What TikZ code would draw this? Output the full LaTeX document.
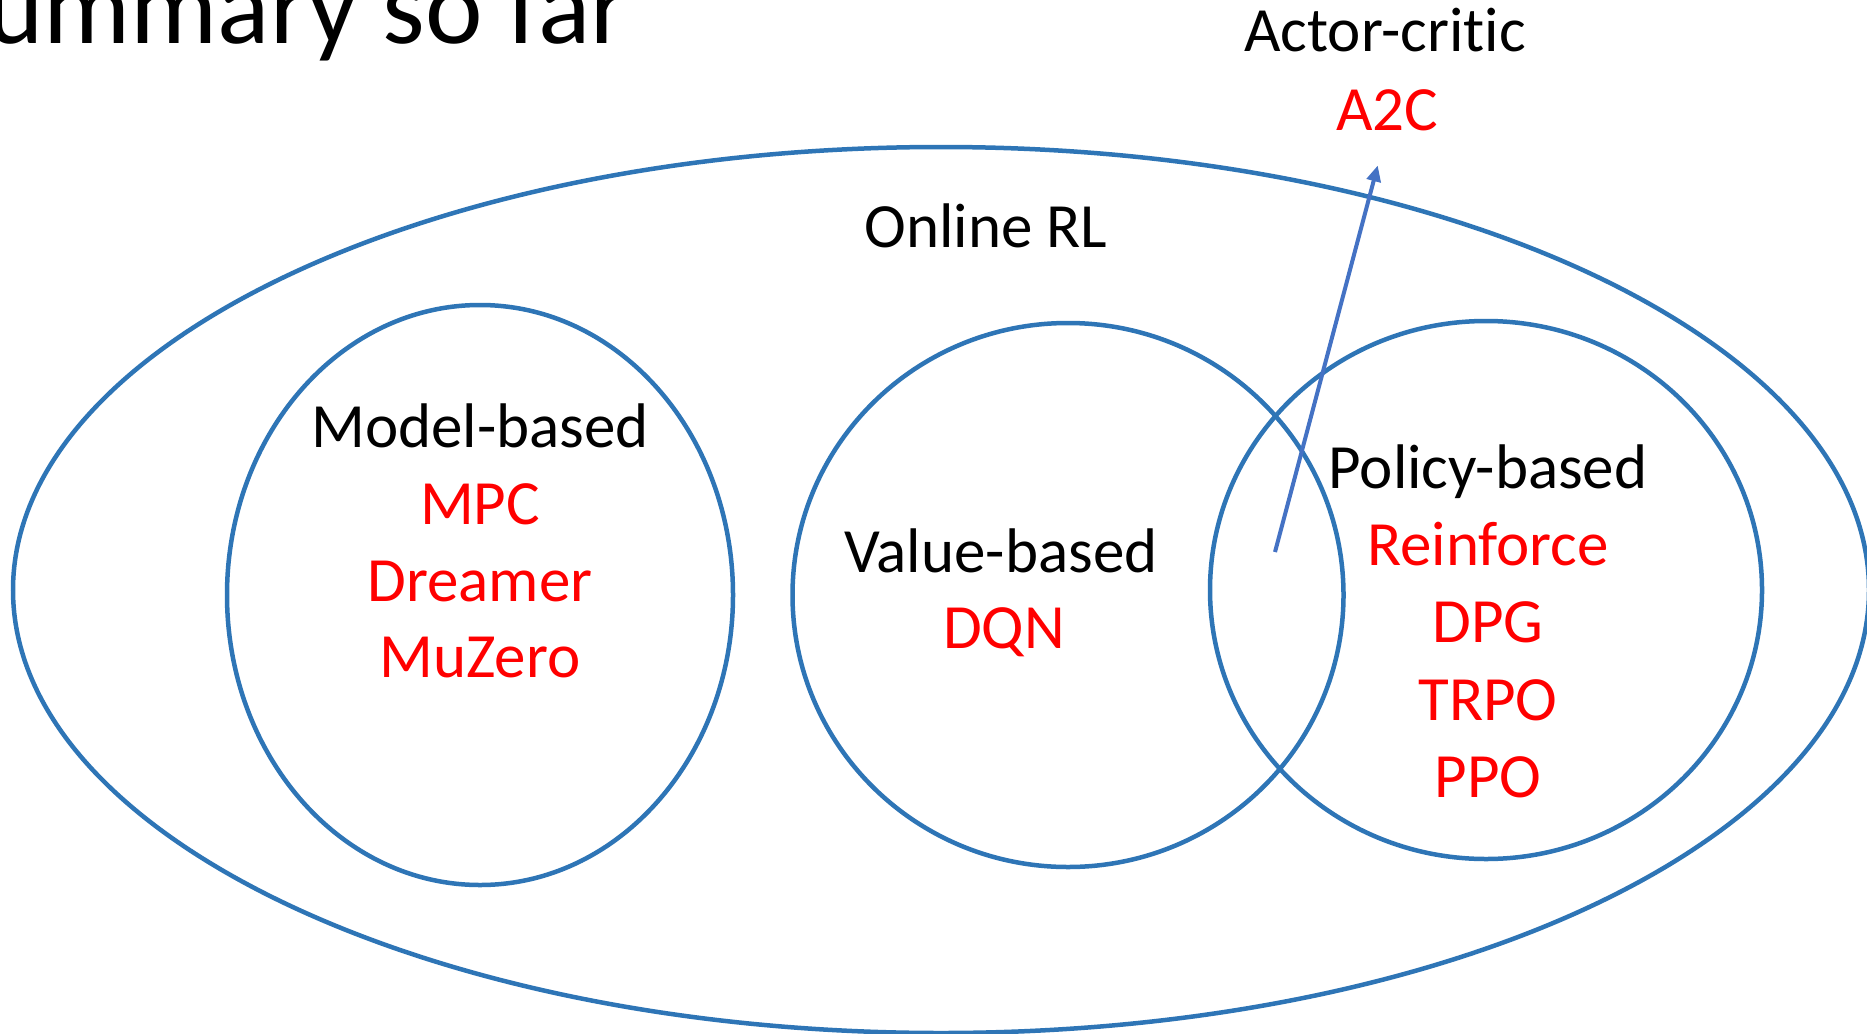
\documentclass[tikz,border=0pt]{standalone}
\usepackage{fontspec}
\setmainfont{Carlito}[Ligatures=CommonOff]
\usetikzlibrary{shapes.geometric,arrows.meta}

\definecolor{ringblue}{RGB}{46,117,182}
\definecolor{arrowblue}{RGB}{68,114,196}
\definecolor{algored}{RGB}{255,0,0}

\tikzset{
  setring/.style={draw=ringblue, line width=4.5pt, ellipse, inner sep=0pt, outer sep=0pt},
  heading/.style={anchor=base, inner sep=0pt, text=black, font=\fontsize{63}{76}\selectfont},
  algo/.style={anchor=base, inner sep=0pt, text=algored, font=\fontsize{63}{76}\selectfont},
  pointer/.style={draw=arrowblue, line width=4pt, -{Triangle[length=16pt,width=14pt]}}
}

\begin{document}
\begin{tikzpicture}[x=1pt, y=-1pt]
  \useasboundingbox (0,0) rectangle (1867,1033);
  \clip (0,0) rectangle (1867,1033);
  \fill[white] (0,0) rectangle (1867,1033);

  % slide title, running off the top-left corner
  \node[anchor=base east, inner sep=0pt, font=\fontsize{109}{126}\selectfont] (title) at (629,44) {Summary so far};

  % sets of methods
  \node[setring, minimum width=1856pt, minimum height=886pt] (online) at (941,590) {};
  \node[setring, minimum width=506pt, minimum height=580pt] (model) at (480,595) {};
  \node[setring, minimum width=551pt, minimum height=544pt] (value) at (1068,595) {};
  \node[setring, minimum width=552pt, minimum height=538pt] (policy) at (1486,590) {};

  % labels
  \node[heading] (onlineLbl) at (986,247) {Online RL};

  \node[heading] (modelLbl) at (480,447) {Model-based};
  \node[algo] (mpc) at (480,524) {MPC};
  \node[algo] (dreamer) at (480,601) {Dreamer};
  \node[algo] (muzero) at (480,677) {MuZero};

  \node[heading] (valueLbl) at (1001,572) {Value-based};
  \node[algo] (dqn) at (1004,648) {DQN};

  \node[heading] (policyLbl) at (1488,488) {Policy-based};
  \node[algo] (reinforce) at (1488,565) {Reinforce};
  \node[algo] (dpg) at (1488,642) {DPG};
  \node[algo] (trpo) at (1488,720) {TRPO};
  \node[algo] (ppo) at (1488,797) {PPO};

  \node[heading] (acLbl) at (1385,52) {Actor-critic};
  \node[algo] (a2c) at (1387,130) {A2C};

  % actor-critic sits in the overlap of value- and policy-based
  \coordinate (overlap) at (1275,552);
  \draw[pointer, shorten >=36pt] (overlap) -- (a2c.south);
\end{tikzpicture}
\end{document}
